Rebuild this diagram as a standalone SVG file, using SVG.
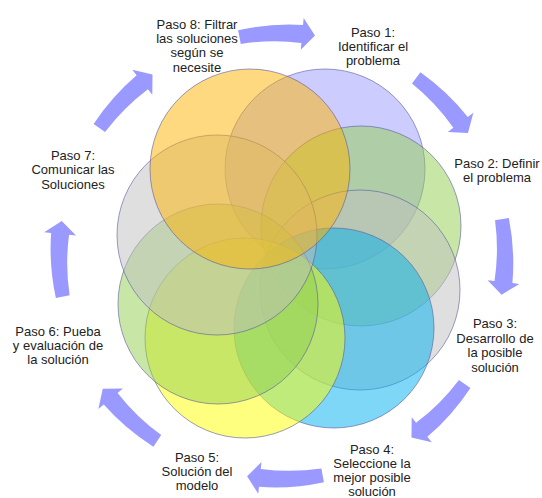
<svg xmlns="http://www.w3.org/2000/svg" xmlns:xlink="http://www.w3.org/1999/xlink" width="542" height="498" viewBox="0 0 542 498">
<style>
  .c { stroke: #5a5aa0; stroke-opacity: 0.6; stroke-width: 1; }
  .t { font-family: "Liberation Sans", Arial, sans-serif; font-size: 13px; fill: #222; text-anchor: middle; }
  .arrow { fill: #9999ff; }
</style>
<defs>
  <path id="arw" class="arrow" d="M226.51,-39.94 A231,231 0 0 1 230.64,25.06 L237.60,25.81 L219.94,36.81 L205.79,22.36 L212.75,23.11 A215,215 0 0 0 212.72,-37.51 Z"/>
</defs>
<rect width="542" height="498" fill="#ffffff"/>
<g id="connectors">
  <use xlink:href="#arw" transform="translate(282,256) rotate(-91)"/>
  <use xlink:href="#arw" transform="translate(282,256) rotate(-43)"/>
  <use xlink:href="#arw" transform="translate(282,256) rotate(0.5)"/>
  <use xlink:href="#arw" transform="translate(282,256) rotate(45)"/>
  <use xlink:href="#arw" transform="translate(282,256) rotate(89.5)"/>
  <use xlink:href="#arw" transform="translate(282,256) rotate(134)"/>
  <use xlink:href="#arw" transform="translate(282,256) rotate(179.5)"/>
  <use xlink:href="#arw" transform="translate(282,256) rotate(225)"/>
</g>
<g id="paso1">
  <circle class="c" cx="325" cy="169" r="100" fill="#9999ff" fill-opacity="0.5"/>
  <text class="t" x="373" y="37">Paso 1:<tspan x="373" y="51">Identificar el</tspan><tspan x="373" y="65">problema</tspan></text>
</g>
<g id="paso2">
  <circle class="c" cx="361" cy="226" r="100" fill="#92d050" fill-opacity="0.5"/>
  <text class="t" x="497" y="168">Paso 2: Definir<tspan x="497" y="182">el problema</tspan></text>
</g>
<g id="paso3">
  <circle class="c" cx="360" cy="290" r="100" fill="#bfbfbf" fill-opacity="0.5"/>
  <text class="t" x="495" y="328">Paso 3:<tspan x="495" y="343">Desarrollo de</tspan><tspan x="495" y="357">la posible</tspan><tspan x="495" y="372">solución</tspan></text>
</g>
<g id="paso4">
  <circle class="c" cx="334" cy="328" r="100" fill="#00b0f0" fill-opacity="0.5"/>
  <text class="t" x="372" y="454">Paso 4:<tspan x="372" y="468">Seleccione la</tspan><tspan x="372" y="482">mejor posible</tspan><tspan x="372" y="496">solución</tspan></text>
</g>
<g id="paso5">
  <circle class="c" cx="245" cy="338" r="100" fill="#ffff00" fill-opacity="0.5"/>
  <text class="t" x="197" y="462">Paso 5:<tspan x="197" y="476">Solución del</tspan><tspan x="197" y="490">modelo</tspan></text>
</g>
<g id="paso6">
  <circle class="c" cx="218" cy="304" r="100" fill="#92d050" fill-opacity="0.5"/>
  <text class="t" x="58" y="336">Paso 6: Pueba<tspan x="58" y="350">y evaluación de</tspan><tspan x="58" y="364">la solución</tspan></text>
</g>
<g id="paso7">
  <circle class="c" cx="217" cy="235" r="100" fill="#bfbfbf" fill-opacity="0.5"/>
  <text class="t" x="73" y="160">Paso 7:<tspan x="73" y="174">Comunicar las</tspan><tspan x="73" y="189">Soluciones</tspan></text>
</g>
<g id="paso8">
  <circle class="c" cx="250" cy="169" r="100" fill="#ffb300" fill-opacity="0.5"/>
  <text class="t" x="197" y="29">Paso 8: Filtrar<tspan x="197" y="43">las soluciones</tspan><tspan x="197" y="57">según se</tspan><tspan x="197" y="71.5">necesite</tspan></text>
</g>
</svg>
